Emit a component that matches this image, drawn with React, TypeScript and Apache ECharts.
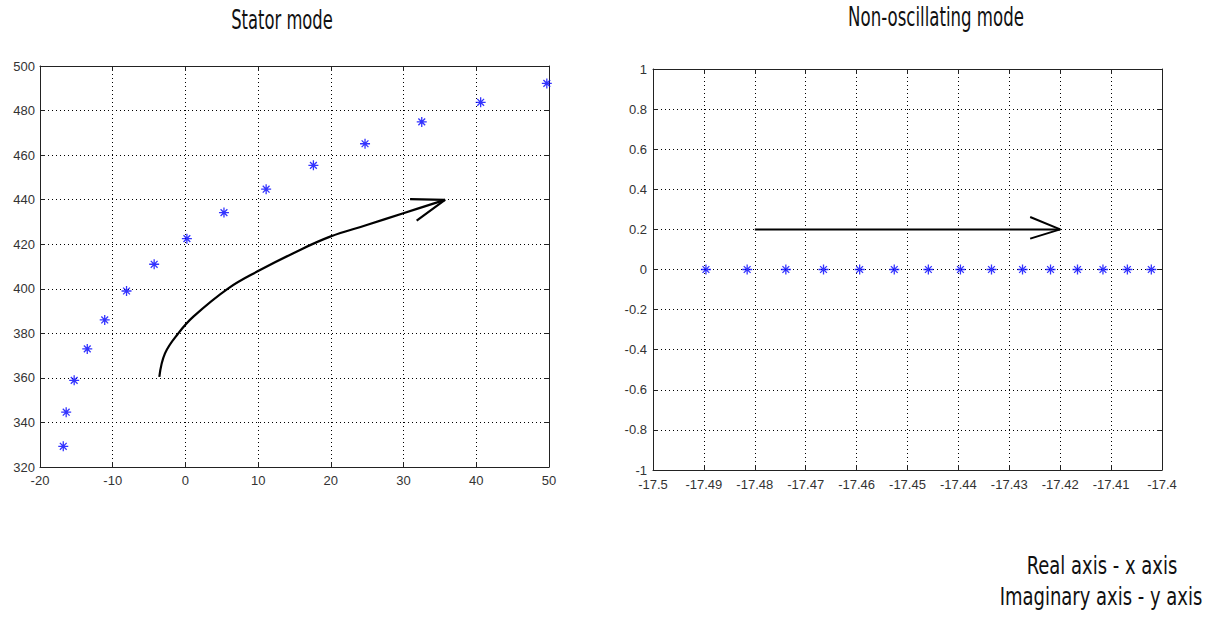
import React, { useEffect, useRef } from "react";
import * as echarts from "echarts";

// Stator mode eigenvalues (real, imaginary)
const statorReal = [-16.8, -16.4, -15.3, -13.5, -11.1, -8.1, -4.3, 0.2, 5.3, 11.1, 17.6, 24.7, 32.5, 40.6, 49.7];
const statorImag = [329.3, 344.6, 358.9, 373, 386, 399, 411, 422.5, 434.2, 444.7, 455.4, 465.1, 474.9, 483.7, 492.2];

// Non-oscillating mode eigenvalues
const nonOscReal = [-17.4896, -17.4815, -17.4739, -17.4665, -17.4594, -17.4526, -17.4459, -17.4396, -17.4335, -17.4274, -17.4219, -17.4166, -17.4116, -17.4068, -17.4021];
const nonOscImag = [0, 0, 0, 0, 0, 0, 0, 0, 0, 0, 0, 0, 0, 0, 0];

// Hand-drawn arrow annotations (data coordinates)
const statorArrowCurve: [number, number][] = [
  [-3.59, 360.5], [-2.81, 371], [-0.98, 380], [1.09, 387.5], [5.9, 400.2], [10.26, 408.4],
  [14.84, 416], [19.9, 423.4], [24.93, 428.6], [29.97, 433.9], [35.7, 439.9],
];
const statorArrowHead: [number, number][] = [[30.89, 440.2], [35.7, 439.9], [31.8, 430.6]];
const nonOscArrowLine: [number, number][] = [[-17.48, 0.2], [-17.42, 0.2]];
const nonOscArrowHead: [number, number][] = [[-17.4259, 0.262], [-17.42, 0.2], [-17.4259, 0.154]];

const titles = ["Stator mode", "Non-oscillating mode"];
const noteLines = ["Real axis - x axis", "Imaginary axis - y axis"];

const STAR = "path://M5,0L5,10M0,5L10,5M1.6,1.6L8.4,8.4M1.6,8.4L8.4,1.6";
const LABEL_FONT = "'Liberation Sans', Arial, sans-serif";
const TITLE_FONT = "'DejaVu Sans Condensed', 'DejaVu Sans', sans-serif";

function fmt(d: number) {
  return (v: number) => String(+(+v).toFixed(d));
}

function mainAxis(gridIndex: number, pos: string, min: number, max: number, interval: number, dec: number, margin: number) {
  return {
    type: "value",
    gridIndex,
    position: pos,
    min,
    max,
    interval,
    axisLine: { show: true, onZero: false, lineStyle: { color: "#222", width: 1 } },
    axisTick: { show: true, inside: true, length: 5, lineStyle: { color: "#222" } },
    axisLabel: { show: true, color: "#333", fontSize: 13, fontFamily: LABEL_FONT, margin, formatter: fmt(dec) },
    splitLine: { show: true, lineStyle: { color: "#000", type: [1, 3], width: 1 } },
  };
}

function boxAxis(gridIndex: number, pos: string, min: number, max: number, interval: number) {
  return {
    type: "value",
    gridIndex,
    position: pos,
    min,
    max,
    interval,
    axisLine: { show: true, onZero: false, lineStyle: { color: "#222", width: 1 } },
    axisTick: { show: true, inside: true, length: 5, lineStyle: { color: "#222" } },
    axisLabel: { show: false },
    splitLine: { show: false },
  };
}

function label(text: string, x: number, y: number, size: number, sx: number) {
  return {
    type: "text",
    x,
    y,
    scaleX: sx,
    style: { text, font: `${size}px ${TITLE_FONT}`, fill: "#111", align: "center", verticalAlign: "middle" },
  };
}

export default function App() {
  const ref = useRef<HTMLDivElement>(null);
  useEffect(() => {
    document.body.style.margin = "0";
    const chart = echarts.init(ref.current!, null, { renderer: "svg" });
    const zip = (xs: number[], ys: number[]) => xs.map((x, i) => [x, ys[i]]);
    chart.setOption({
      animation: false,
      backgroundColor: "#fff",
      graphic: [
        label(titles[0], 282, 20, 26, 0.7),
        label(titles[1], 936, 17, 26, 0.71),
        label(noteLines[0], 1102, 565, 25, 0.8),
        label(noteLines[1], 1101, 596, 25, 0.8),
      ],
      grid: [
        { left: 40, top: 66, width: 509, height: 401, show: false },
        { left: 653, top: 69, width: 509, height: 401, show: false },
      ],
      xAxis: [
        mainAxis(0, "bottom", -20, 50, 10, 0, 7),
        mainAxis(1, "bottom", -17.5, -17.4, 0.01, 2, 8),
        boxAxis(0, "top", -20, 50, 10),
        boxAxis(1, "top", -17.5, -17.4, 0.01),
      ],
      yAxis: [
        mainAxis(0, "left", 320, 500, 20, 0, 5),
        mainAxis(1, "left", -1, 1, 0.2, 1, 6),
        boxAxis(0, "right", 320, 500, 20),
        boxAxis(1, "right", -1, 1, 0.2),
      ],
      series: [
        {
          type: "line", xAxisIndex: 0, yAxisIndex: 0, data: statorArrowCurve, smooth: 0.4, showSymbol: false,
          lineStyle: { color: "#000", width: 2.2 }, silent: true,
        },
        {
          type: "line", xAxisIndex: 0, yAxisIndex: 0, data: statorArrowHead, showSymbol: false,
          lineStyle: { color: "#000", width: 2.2 }, silent: true,
        },
        {
          type: "line", xAxisIndex: 1, yAxisIndex: 1, data: nonOscArrowLine, showSymbol: false,
          lineStyle: { color: "#000", width: 2 }, silent: true,
        },
        {
          type: "line", xAxisIndex: 1, yAxisIndex: 1, data: nonOscArrowHead, showSymbol: false,
          lineStyle: { color: "#000", width: 2 }, silent: true,
        },
        {
          type: "scatter", xAxisIndex: 0, yAxisIndex: 0, data: zip(statorReal, statorImag),
          symbol: STAR, symbolSize: 10, itemStyle: { color: "#0000ff", borderColor: "#0000ff", borderWidth: 1.3 },
        },
        {
          type: "scatter", xAxisIndex: 1, yAxisIndex: 1, data: zip(nonOscReal, nonOscImag),
          symbol: STAR, symbolSize: 10, itemStyle: { color: "#0000ff", borderColor: "#0000ff", borderWidth: 1.3 },
        },
      ],
    });
    return () => chart.dispose();
  }, []);
  return <div ref={ref} style={{ width: 1215, height: 621 }} />;
}
